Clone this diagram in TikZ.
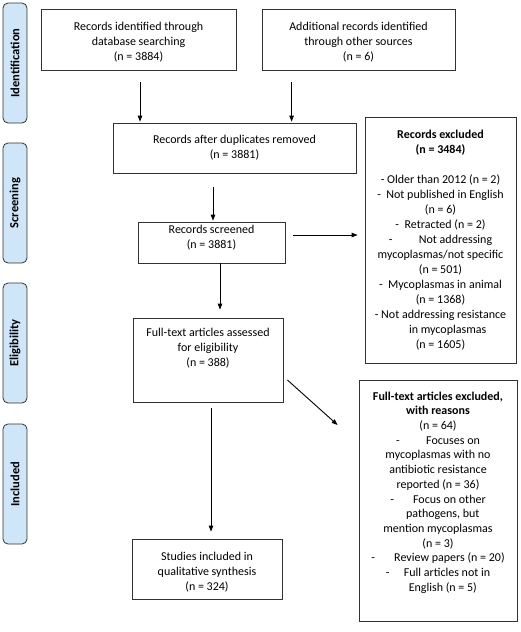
\documentclass[tikz,border=0pt]{standalone}
\usepackage{fontspec}
\setmainfont{Carlito}
\usetikzlibrary{calc,arrows.meta}
\definecolor{sidefill}{RGB}{206,230,248}
\definecolor{edge}{RGB}{50,50,50}
\tikzset{
  box/.style={draw=edge, line width=0.8pt, inner sep=0pt},
  txt/.style={align=center, inner sep=0pt, font=\fontsize{12}{14.7}\selectfont},
  side/.style={draw=edge, line width=0.8pt, fill=sidefill, rounded corners=5pt,
     minimum width=24pt, minimum height=120pt, inner sep=0pt},
  sidetxt/.style={rotate=90, font=\fontsize{12.5}{14}\selectfont\bfseries, inner sep=0pt},
  arr/.style={line width=0.9pt, -{Triangle[length=6pt,width=4.5pt]}}
}
\begin{document}
\begin{tikzpicture}[x=1pt,y=-1pt]
\useasboundingbox (0,0) rectangle (520,632);
% phase labels
\node[side] (sid) at (15,63) {};
\node[sidetxt] (sidt) at (sid.center) {Identification};
\node[side] (ssc) at (15,203) {};
\node[sidetxt] (ssct) at (ssc.center) {Screening};
\node[side] (sel) at (15,343) {};
\node[sidetxt] (selt) at (sel.center) {Eligibility};
\node[side] (sin) at (15,484) {};
\node[sidetxt] (sint) at (sin.center) {Included};
% boxes
\node[box, minimum width=195pt, minimum height=61pt] (b1) at (138.5,39.5) {};
\node[txt] (b1t) at (138.5,42) {Records identified through\\database searching\\(n = 3884)};
\node[box, minimum width=193pt, minimum height=61pt] (b2) at (358.5,39.5) {};
\node[txt] (b2t) at (358.5,42) {Additional records identified\\through other sources\\(n = 6)};
\node[box, minimum width=243pt, minimum height=50pt] (dup) at (234.5,148) {};
\node[txt] (dupt) at (234.5,147.5) {Records after duplicates removed\\(n = 3881)};
\node[box, minimum width=147pt, minimum height=41pt] (scr) at (211.5,242.5) {};
\node[txt] (scrt) at (211.5,238) {Records screened\\(n = 3881)};
\node[box, minimum width=150pt, minimum height=84pt] (ft) at (208,360) {};
\node[txt] (ftt) at (208,348) {Full-text articles assessed\\for eligibility\\(n = 388)};
\node[box, minimum width=150pt, minimum height=60pt] (st) at (207,569) {};
\node[txt] (stt) at (207,572) {Studies included in\\qualitative synthesis\\(n = 324)};
\node[box, minimum width=151pt, minimum height=246pt] (ex1) at (440.5,240) {};
\node[txt, font=\fontsize{12}{15}\selectfont] (ex1t) at (440.5,240) {\textbf{Records excluded}\\\textbf{(n = 3484)}\\[15pt]
- Older than 2012 (n = 2)\\
-\ \ Not published in English\\
(n = 6)\\
-\ \ Retracted (n = 2)\\
-\hspace{2.2em}Not addressing\\
mycoplasmas/not specific\\
(n = 501)\\
-\ \ Mycoplasmas in animal\\
(n = 1368)\\
- Not addressing resistance\\
\hspace{1.2em}in mycoplasmas\\
(n = 1605)};
\node[box, minimum width=158pt, minimum height=241pt] (ex2) at (438,500.5) {};
\node[txt] (ex2t) at (438,492.5) {\textbf{Full-text articles excluded,}\\\textbf{with reasons}\\
(n = 64)\\
-\hspace{2.2em}Focuses on\\
mycoplasmas with no\\
antibiotic resistance\\
reported (n = 36)\\
-\hspace{1.6em}Focus on other\\
\hspace{0.8em}pathogens, but\\
mention mycoplasmas\\
(n = 3)\\
-\hspace{1.6em}Review papers (n = 20)\\
-\hspace{1.2em}Full articles not in\\
\hspace{0.8em}English (n = 5)};
% arrow start points
\coordinate (a1s) at ($(b1.south)+(1.5,12)$);
\coordinate (a2s) at ($(b2.south west)+(30,12)$);
\coordinate (a3s) at ($(scr.north)+(1.5,-35)$);
\coordinate (a4s) at ($(scr.east)+(8,-7.5)$);
\coordinate (a5s) at ($(scr.south)+(8.5,0)$);
\coordinate (a6s) at ($(ft.south)+(3,6)$);
\coordinate (a7s) at ($(ft.east)+(4,20)$);
\coordinate (a7e) at ($(ex2.west)+(-21,-75.5)$);
% arrows
\draw[arr, shorten >=1pt] (a1s) -- (a1s |- dup.north);
\draw[arr, shorten >=1pt] (a2s) -- (a2s |- dup.north);
\draw[arr, shorten >=1pt] (a3s) -- (a3s |- scr.north);
\draw[arr, shorten >=7pt] (a4s) -- (a4s -| ex1.west);
\draw[arr, shorten >=8pt] (a5s) -- (a5s |- ft.north);
\draw[arr, shorten >=7pt] (a6s) -- (a6s |- st.north);
\draw[arr] (a7s) -- (a7e);
\end{tikzpicture}
\end{document}
